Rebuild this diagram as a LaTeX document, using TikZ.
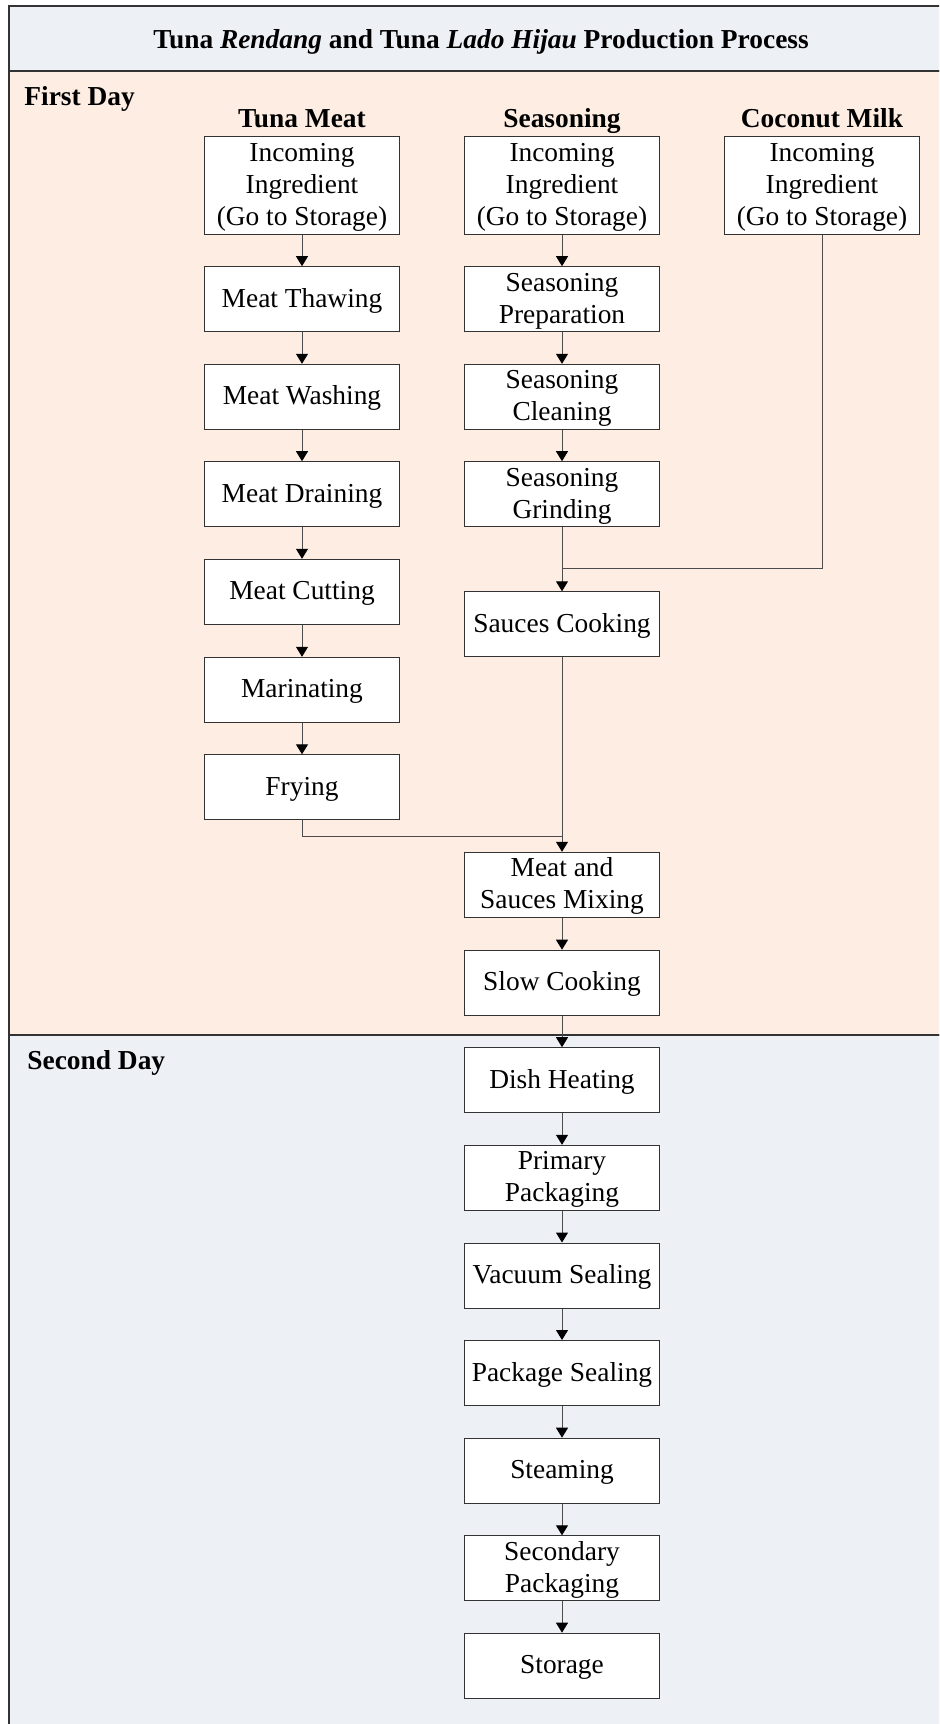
\documentclass[tikz,border=0pt]{standalone}
\usepackage{fontspec}
\setmainfont{Liberation Serif}
\usetikzlibrary{arrows.meta}
\definecolor{peach}{RGB}{253,237,226}
\definecolor{bluegray}{RGB}{237,240,245}
\newcommand{\bxtext}[1]{\raisebox{-0.8pt}[\height][\depth]{\begin{tabular}{@{}c@{}}#1\end{tabular}}}
\begin{document}
\begin{tikzpicture}[x=0.5pt,y=-0.5pt,
  every node/.style={font=\fontsize{13.7}{16}\selectfont},
  proc/.style={draw=black!80, line width=0.5pt, fill=white, minimum width=97.5pt, minimum height=32.5pt, inner sep=0pt},
  tall/.style={proc, minimum height=49pt},
  arr/.style={draw=black!70, line width=0.5pt, -{Triangle[length=5pt,width=6pt,color=black]}},
  link/.style={draw=black!70, line width=0.5pt},
  head/.style={font=\bfseries\fontsize{13.7}{16.5}\selectfont, anchor=base, inner sep=0pt},
  band/.style={draw=black!80, line width=0.6pt}]
\useasboundingbox (0,0) rectangle (939,1724);
\clip (0,0) rectangle (939,1724);
% bands
\path[band, fill=bluegray] (9,6) rectangle (950,71);
\path[band, fill=peach] (9,71) rectangle (950,1035);
\path[band, fill=bluegray] (9,1035) rectangle (950,1735);
% labels
\node[head] (title) at (481,48.7) {Tuna \textit{Rendang} and Tuna \textit{Lado Hijau} Production Process};
\node[head, anchor=base west] (day1) at (24,105) {First Day};
\node[head, anchor=base west] (day2) at (27,1069.5) {Second Day};
\node[head] (hTuna) at (302,127.5) {Tuna Meat};
\node[head] (hSeas) at (562,127.5) {Seasoning};
\node[head] (hCoco) at (822,127.5) {Coconut Milk};
% tuna column
\node[tall] (inT) at (302,185) {\bxtext{Incoming\\Ingredient\\(Go to Storage)}};
\node[proc] (thaw) at (302,299.2) {\bxtext{Meat Thawing}};
\node[proc] (wash) at (302,396.8) {\bxtext{Meat Washing}};
\node[proc] (drain) at (302,494.2) {\bxtext{Meat Draining}};
\node[proc] (cut) at (302,591.8) {\bxtext{Meat Cutting}};
\node[proc] (mar) at (302,689.8) {\bxtext{Marinating}};
\node[proc] (fry) at (302,787.3) {\bxtext{Frying}};
% seasoning column
\node[tall] (inS) at (562,185) {\bxtext{Incoming\\Ingredient\\(Go to Storage)}};
\node[proc] (prep) at (562,299.2) {\bxtext{Seasoning\\Preparation}};
\node[proc] (clean) at (562,396.8) {\bxtext{Seasoning\\Cleaning}};
\node[proc] (grind) at (562,494.2) {\bxtext{Seasoning\\Grinding}};
\node[proc] (sauce) at (562,624.3) {\bxtext{Sauces Cooking}};
\node[proc] (mix) at (562,884.8) {\bxtext{Meat and\\Sauces Mixing}};
\node[proc] (slow) at (562,982.7) {\bxtext{Slow Cooking}};
% coconut
\node[tall] (inC) at (822,185) {\bxtext{Incoming\\Ingredient\\(Go to Storage)}};
% second day
\node[proc] (dish) at (562,1080.2) {\bxtext{Dish Heating}};
\node[proc] (prim) at (562,1177.8) {\bxtext{Primary\\Packaging}};
\node[proc] (vac) at (562,1275.5) {\bxtext{Vacuum Sealing}};
\node[proc] (pack) at (562,1373) {\bxtext{Package Sealing}};
\node[proc] (steam) at (562,1470.7) {\bxtext{Steaming}};
\node[proc] (sec) at (562,1568.3) {\bxtext{Secondary\\Packaging}};
\node[proc] (stor) at (562,1665.7) {\bxtext{Storage}};
% junctions
\coordinate (jC) at (562,568.3);
\coordinate (jF) at (562,836);
% connectors
\draw[arr] (inT) -- (thaw);
\draw[arr] (thaw) -- (wash);
\draw[arr] (wash) -- (drain);
\draw[arr] (drain) -- (cut);
\draw[arr] (cut) -- (mar);
\draw[arr] (mar) -- (fry);
\draw[arr] (inS) -- (prep);
\draw[arr] (prep) -- (clean);
\draw[arr] (clean) -- (grind);
\draw[arr] (grind) -- (sauce);
\draw[link] (inC.south) |- (jC);
\draw[arr] (sauce) -- (mix);
\draw[link] (fry.south) |- (jF);
\draw[arr] (mix) -- (slow);
\draw[arr] (slow) -- (dish);
\draw[arr] (dish) -- (prim);
\draw[arr] (prim) -- (vac);
\draw[arr] (vac) -- (pack);
\draw[arr] (pack) -- (steam);
\draw[arr] (steam) -- (sec);
\draw[arr] (sec) -- (stor);
\end{tikzpicture}
\end{document}
